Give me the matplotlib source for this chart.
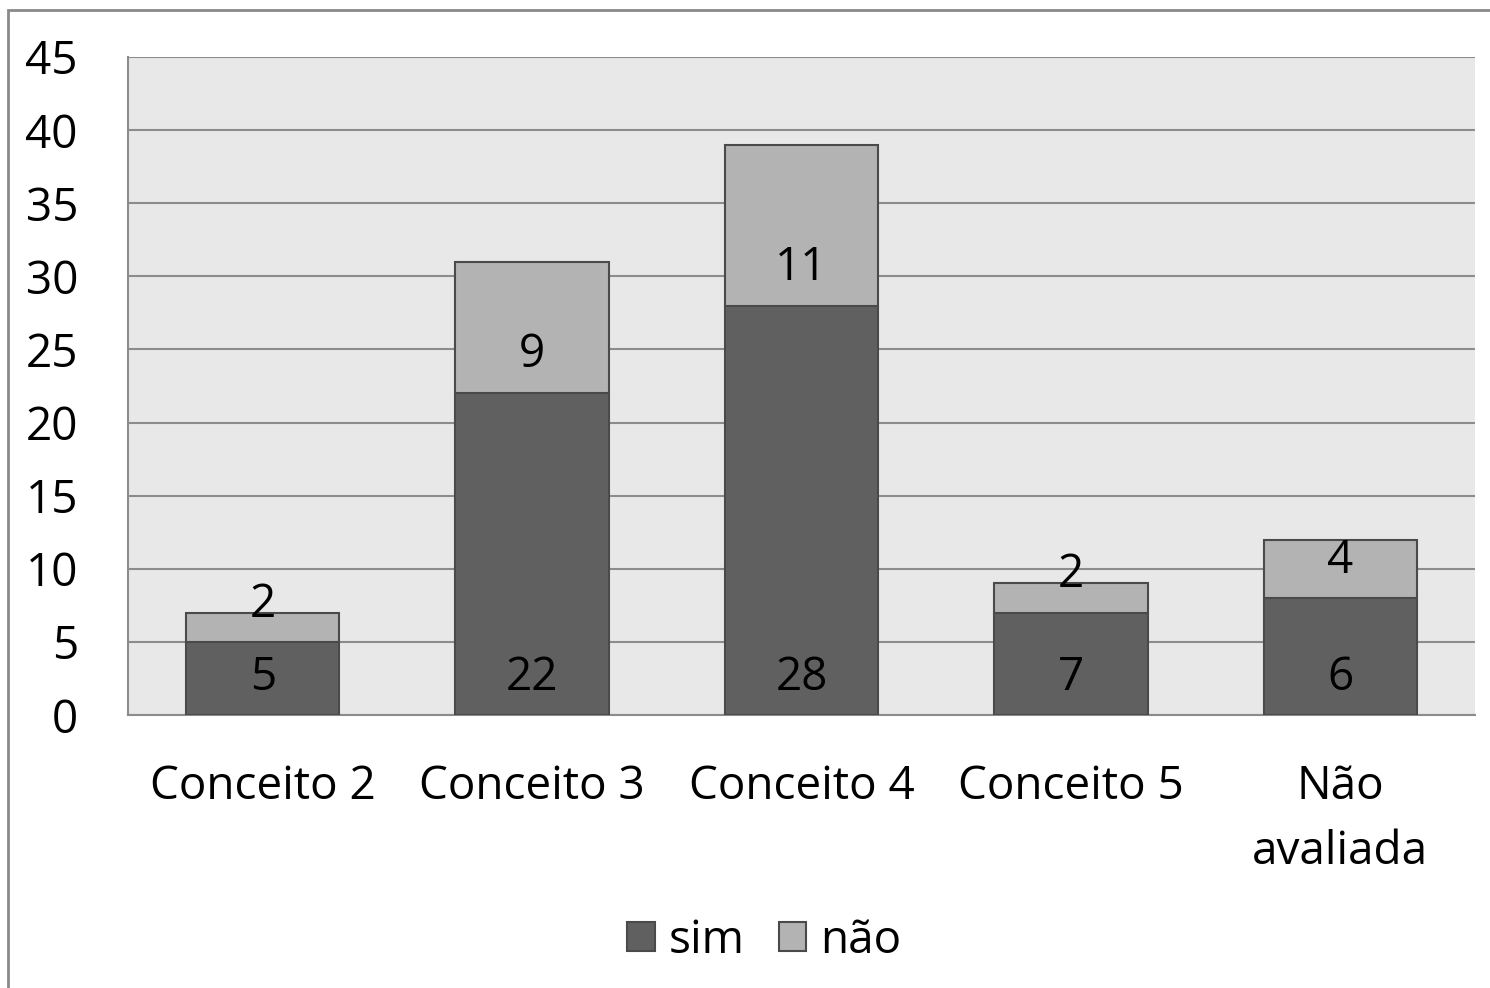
import numpy as np
import matplotlib.pyplot as plt
from matplotlib.patches import Rectangle

plt.rcParams['font.family'] = ['Open Sans', 'DejaVu Sans']

categories = ['Conceito 2', 'Conceito 3', 'Conceito 4', 'Conceito 5', 'Não\navaliada']
sim = [5, 22, 28, 7, 8]
nao = [2, 9, 11, 2, 4]
sim_labels = ['5', '22', '28', '7', '6']
nao_labels = ['2', '9', '11', '2', '4']
yticks = [0, 5, 10, 15, 20, 25, 30, 35, 40, 45]

# where the labels sit
sim_label_y = 2.5
nao_label_y = [7.55, 24.65, 30.55, 9.55, 10.55]

fig = plt.figure(figsize=(14.9, 9.88), dpi=100)
ax = fig.add_axes([128/1490, 1 - 715/988, (1475-128)/1490, (715-57)/988])
ax.set_facecolor('#e8e8e8')

# outer chart frame
fig.patches.append(Rectangle((8/1490, -0.1), 1.2, 1 - 10/988 + 0.1, transform=fig.transFigure,
                             fill=False, edgecolor='#8a8a8a', linewidth=2))

x = np.arange(len(categories))
w = 0.57
ax.bar(x, sim, w, color='#606060', edgecolor='#4a4a4a', linewidth=1.5, label='sim', zorder=3)
ax.bar(x, nao, w, bottom=sim, color='#b3b3b3', edgecolor='#4a4a4a', linewidth=1.5, label='não', zorder=3)

for i in range(len(x)):
    ax.text(x[i], sim_label_y, sim_labels[i], ha='center', va='center', fontsize=33, zorder=4)
    ax.text(x[i], nao_label_y[i], nao_labels[i], ha='center', va='center', fontsize=33, zorder=4)

ax.set_xlim(-0.5, 4.5)
ax.set_ylim(0, 45)
ax.set_yticks(yticks)
ax.set_xticks(x)
ax.set_xticklabels(categories, fontsize=33, linespacing=1.55)
ax.tick_params(axis='y', labelsize=33, length=0, pad=36)
ax.tick_params(axis='x', length=0, pad=35)
ax.yaxis.grid(True, color='#8c8c8c', linewidth=1.5, zorder=0)
ax.set_axisbelow(True)
ax.spines['right'].set_visible(False)
ax.spines['top'].set_visible(False)
ax.spines['left'].set_color('#8c8c8c')
ax.spines['bottom'].set_color('#8c8c8c')
ax.spines['left'].set_linewidth(1.5)
ax.spines['bottom'].set_linewidth(1.5)

ax.legend(loc='center', bbox_to_anchor=(764/1490, 1 - 941/988), bbox_transform=fig.transFigure,
          ncol=2, frameon=False, fontsize=33, handlelength=0.6, handleheight=0.6,
          handletextpad=0.3, columnspacing=0.75)

fig.savefig('out.png', dpi=100)
